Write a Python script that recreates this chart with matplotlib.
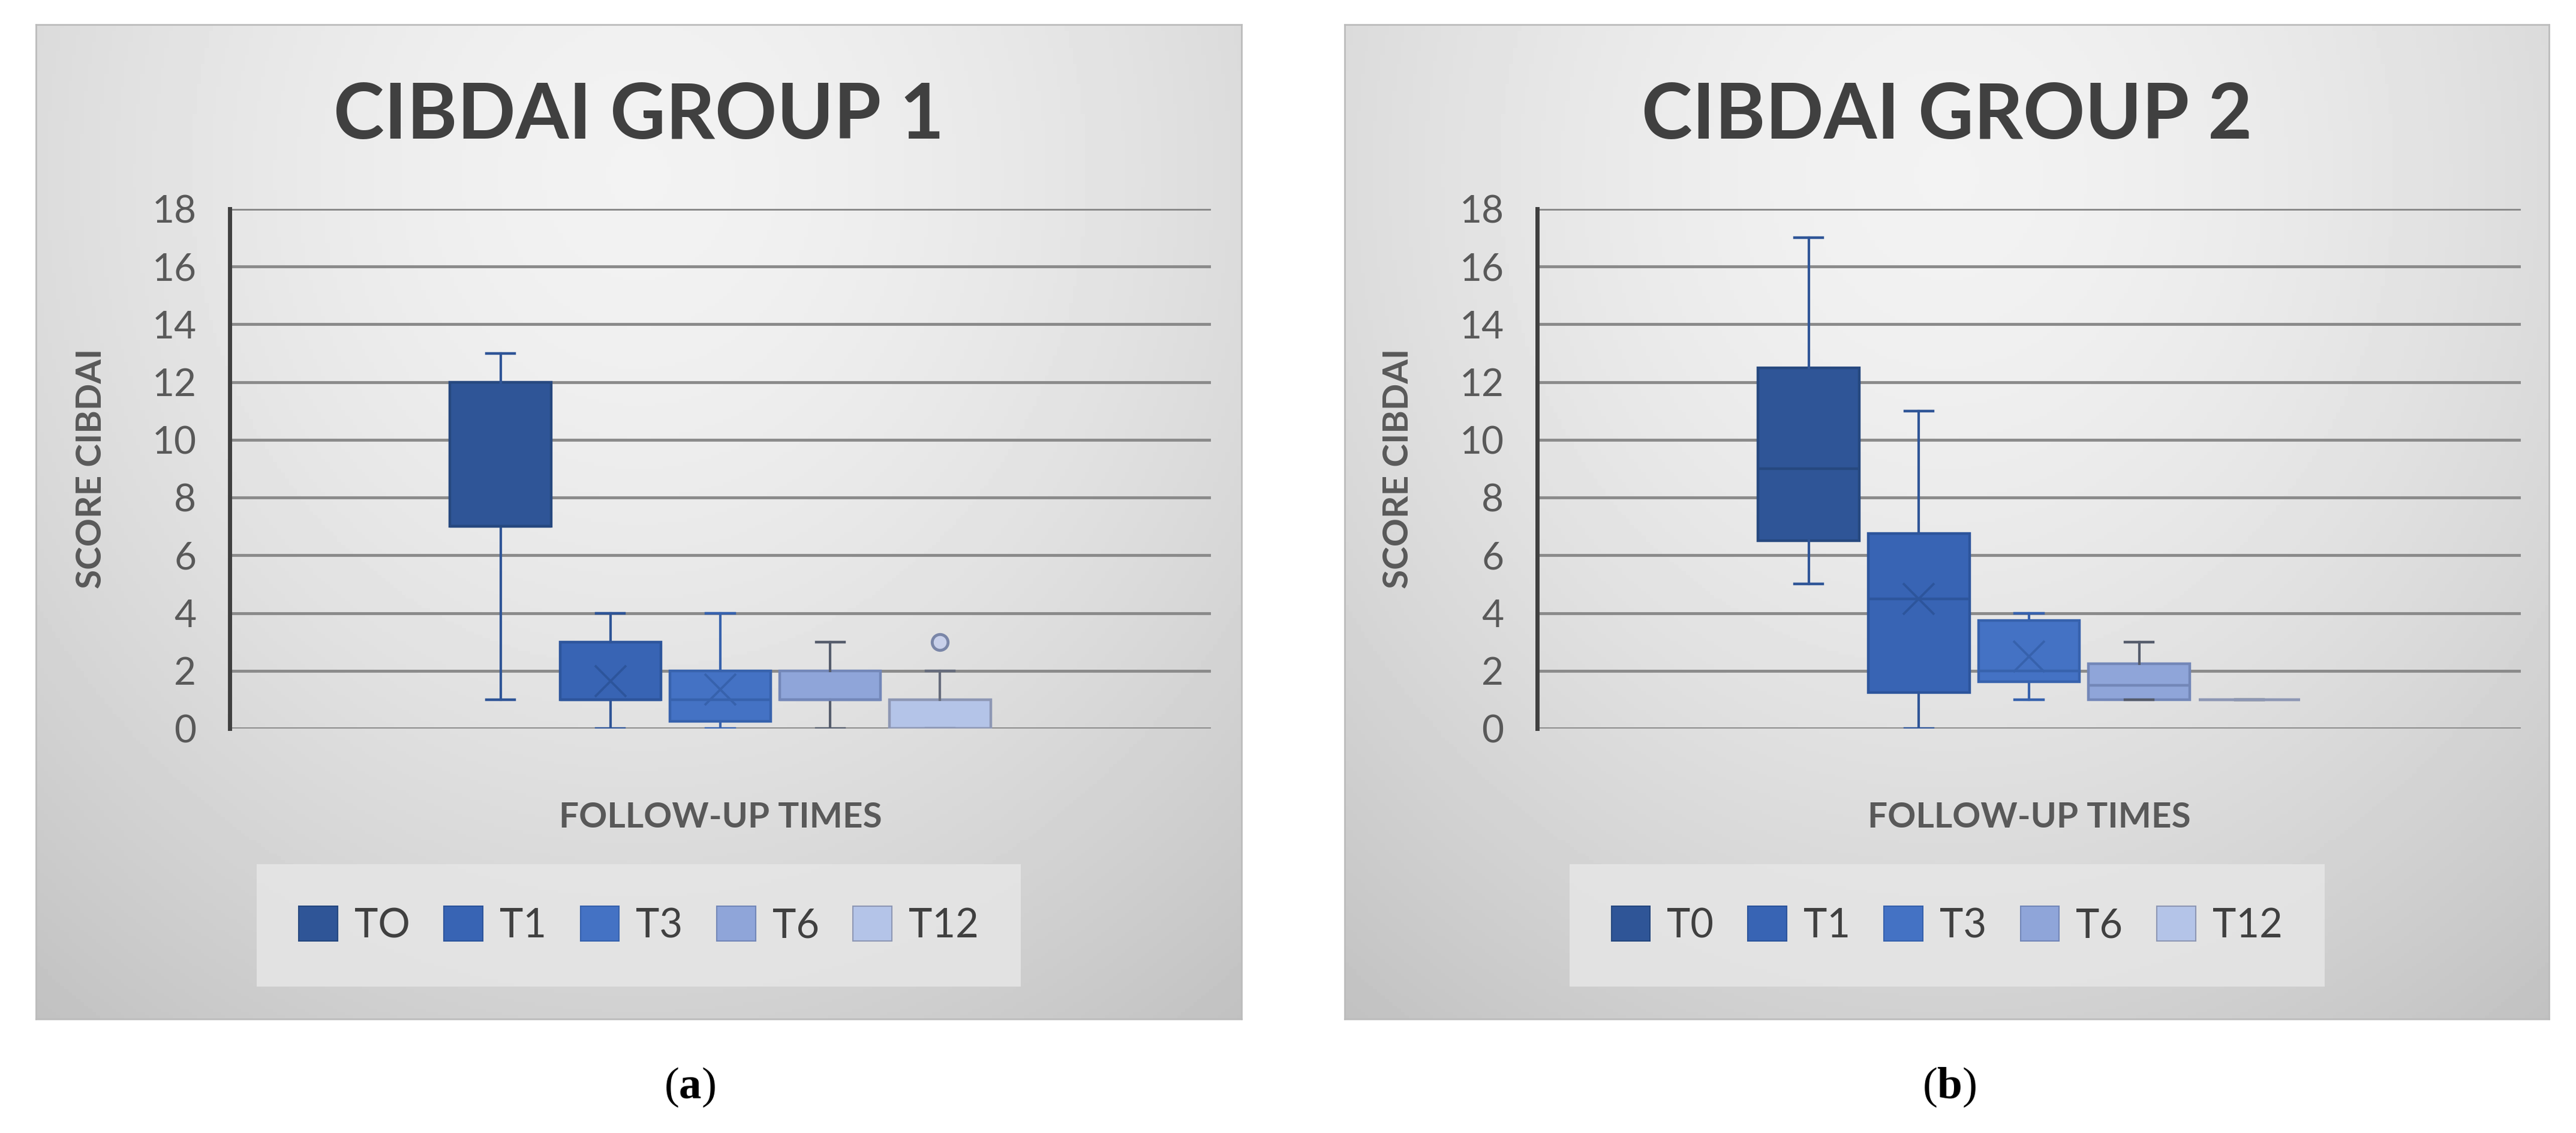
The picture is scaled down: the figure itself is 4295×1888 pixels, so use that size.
import numpy as np
import matplotlib.pyplot as plt
from matplotlib.patches import Patch

plt.rcParams['font.family'] = ['Lato', 'DejaVu Sans']
plt.rcParams['mathtext.fontset'] = 'custom'
plt.rcParams['mathtext.rm'] = 'Liberation Serif'
plt.rcParams['mathtext.bf'] = 'Liberation Serif:bold'

W, H = 4295, 1888

series = ["T0", "T1", "T3", "T6", "T12"]
legend_g1 = ["TO", "T1", "T3", "T6", "T12"]
legend_g2 = ["T0", "T1", "T3", "T6", "T12"]
yticks = [0, 2, 4, 6, 8, 10, 12, 14, 16, 18]

# group 1
g1_low = [1, 0, 0, 0, 0]
g1_q1 = [7, 1, 0.25, 1, 0]
g1_med = [7, 1, 1, 1, 0]
g1_q3 = [12, 3, 2, 2, 1]
g1_high = [13, 4, 4, 3, 2]
g1_mean = [None, 1.65, 1.35, None, None]
g1_out = [[], [], [], [], [3]]

# group 2
g2_low = [5, 0, 1, 1, 1]
g2_q1 = [6.5, 1.25, 1.625, 1, 1]
g2_med = [9, 4.5, 2, 1.5, 1]
g2_q3 = [12.5, 6.75, 3.75, 2.25, 1]
g2_high = [17, 11, 4, 3, 1]
g2_mean = [None, 4.5, 2.5, None, None]
g2_out = [[], [], [], [], []]

fill_colors = ['#2F5597', '#3864B4', '#4472C4', '#8FA5D9', '#B4C4E8']
edge_colors = ['#26487f', '#2d559c', '#3762ad', '#7387b8', '#8d97b4']
whisk_colors = ['#2F5597', '#2F5597', '#3762ad', '#555c6c', '#666c7c']

fig = plt.figure(figsize=(W / 100, H / 100), dpi=100)


def panel_bg(x0, y0, x1, y1):
    bg = fig.add_axes([x0 / W, 1 - y1 / H, (x1 - x0) / W, (y1 - y0) / H], zorder=-5)
    yy, xx = np.mgrid[0:1:300j, 0:1:300j]
    r = np.sqrt(((xx - 0.5) / 0.75) ** 2 + ((yy - 0.15) / 1.0) ** 2)
    shade = 0.95 - 0.17 * np.clip(r, 0, 1.2) ** 1.6
    bg.imshow(shade, cmap='gray', vmin=0, vmax=1, extent=[0, 1, 0, 1],
              aspect='auto', origin='upper')
    bg.set_xticks([])
    bg.set_yticks([])
    for s in bg.spines.values():
        s.set_color('#bcbcbc')
        s.set_linewidth(2)
    return bg


def draw_group(ax, low, q1, med, q3, high, mean, out):
    pos = 0.5 + (np.arange(len(series)) - 2) * 0.112
    for i in range(len(series)):
        st = dict(whislo=low[i], q1=q1[i], med=med[i], q3=q3[i],
                  whishi=high[i], fliers=out[i])
        if mean[i] is not None:
            st['mean'] = mean[i]
        ax.bxp([st], positions=[pos[i]], widths=0.103, capwidths=0.029,
               patch_artist=True, showmeans=mean[i] is not None,
               showfliers=True, manage_ticks=False, zorder=3,
               boxprops=dict(facecolor=fill_colors[i], edgecolor=edge_colors[i], linewidth=3.2),
               medianprops=dict(color=edge_colors[i], linewidth=3.2),
               whiskerprops=dict(color=whisk_colors[i], linewidth=3),
               capprops=dict(color=whisk_colors[i], linewidth=3.2),
               meanprops=dict(marker='x', markersize=38, markeredgecolor=edge_colors[i],
                              markeredgewidth=2.8),
               flierprops=dict(marker='o', markersize=19, markerfacecolor='#c8d0ea',
                               markeredgecolor='#7a86a8', markeredgewidth=3.5))


def style_axes(ax):
    ax.set_facecolor('none')
    ax.set_xlim(0, 1)
    ax.set_ylim(0, 18)
    ax.set_yticks(yticks)
    ax.set_xticks([])
    ax.grid(axis='y', color='#8a8a8a', linewidth=3.5)
    ax.set_axisbelow(True)
    for side in ['top', 'right', 'bottom']:
        ax.spines[side].set_visible(False)
    ax.spines['left'].set_color('#404040')
    ax.spines['left'].set_linewidth(5)
    ax.spines['left'].set_zorder(4)
    ax.tick_params(axis='y', length=0, labelsize=46, labelcolor='#595959', pad=40)
    ax.set_ylabel('SCORE CIBDAI', fontsize=42, fontweight='bold', color='#595959', va='center')
    ax.yaxis.set_label_coords(-0.141, 0.5)
    ax.set_xlabel('FOLLOW-UP TIMES', fontsize=42, fontweight='bold', color='#595959', va='center')
    ax.xaxis.set_label_coords(0.5, -0.171)


panels = [
    dict(x0=60, x1=2070, ax_x0=383, ax_x1=2019, title='CIBDAI GROUP 1', labels=legend_g1,
         cap='a', cap_x=1150,
         data=(g1_low, g1_q1, g1_med, g1_q3, g1_high, g1_mean, g1_out)),
    dict(x0=2242, x1=4250, ax_x0=2563, ax_x1=4203, title='CIBDAI GROUP 2', labels=legend_g2,
         cap='b', cap_x=3250,
         data=(g2_low, g2_q1, g2_med, g2_q3, g2_high, g2_mean, g2_out)),
]

ax_top, ax_bot = 348, 1214

for p in panels:
    panel_bg(p['x0'], 41, p['x1'], 1698)
    ax = fig.add_axes([p['ax_x0'] / W, 1 - ax_bot / H, (p['ax_x1'] - p['ax_x0']) / W,
                       (ax_bot - ax_top) / H])
    style_axes(ax)
    draw_group(ax, *p['data'])

    cx = (p['x0'] + p['x1']) / 2
    fig.text(cx / W, 1 - 195 / H, p['title'], fontsize=92, fontweight='bold',
             color='#404040', ha='center', va='center')

    handles = [Patch(facecolor=fill_colors[i], edgecolor=edge_colors[i], linewidth=1.5)
               for i in range(len(series))]
    leg = fig.legend(handles, p['labels'], loc='center', bbox_to_anchor=(cx / W, 1 - 1542 / H),
                     ncol=5, fontsize=48, frameon=True, fancybox=False, handlelength=0.97,
                     handleheight=0.97, handletextpad=0.42, columnspacing=0.85, borderpad=1.05)
    leg.get_frame().set_facecolor('#e6e6e6')
    leg.get_frame().set_edgecolor('none')
    leg.get_frame().set_alpha(0.85)
    for t in leg.get_texts():
        t.set_color('#404040')

    fig.text(p['cap_x'] / W, 1 - 1812 / H, r'$\mathrm{(}\mathbf{' + p['cap'] + r'}\mathrm{)}$',
             fontsize=54, ha='center', va='center', color='black')

fig.savefig('out.png', dpi=100)
